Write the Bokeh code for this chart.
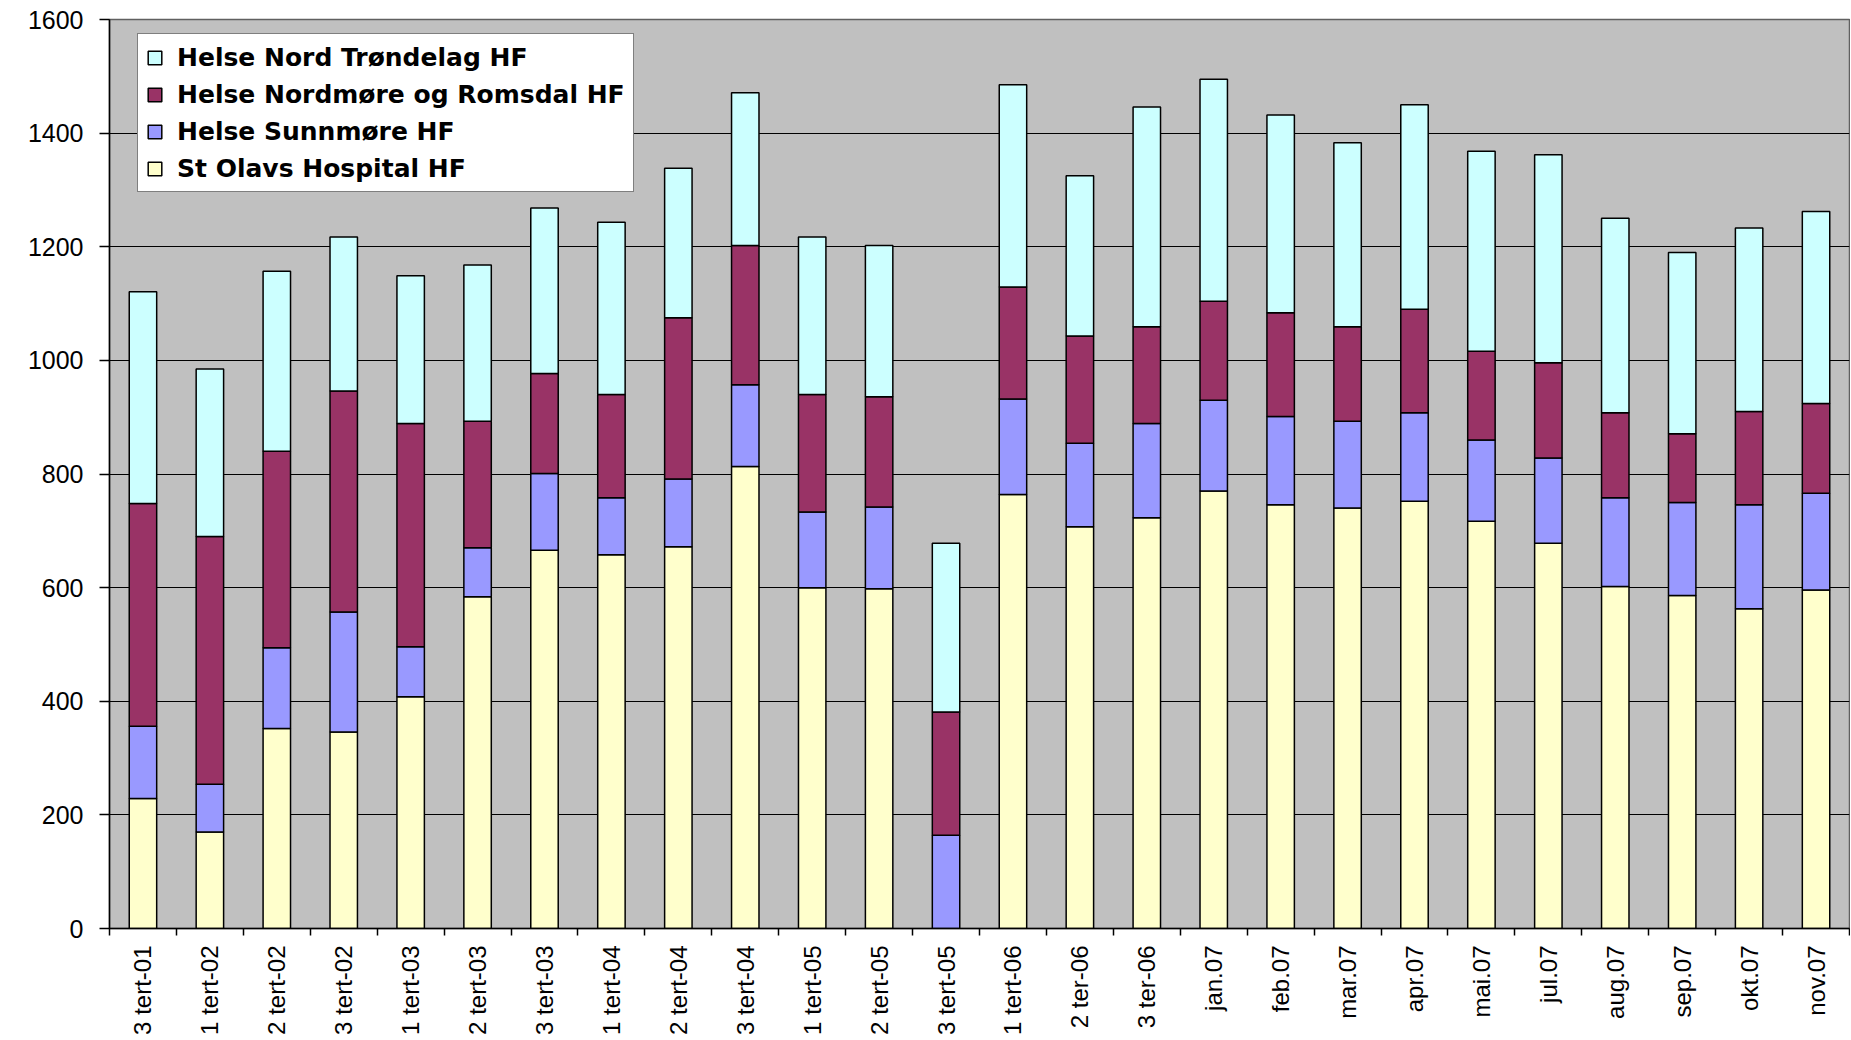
from bokeh.plotting import figure
from bokeh.models import (Range1d, FixedTicker, Legend, LegendItem, ColumnDataSource)
from bokeh.embed import file_html
from bokeh.resources import INLINE
import math

categories = ["3 tert-01", "1 tert-02", "2 tert-02", "3 tert-02", "1 tert-03", "2 tert-03",
              "3 tert-03", "1 tert-04", "2 tert-04", "3 tert-04", "1 tert-05", "2 tert-05",
              "3 tert-05", "1 tert-06", "2 ter-06", "3 ter-06", "jan.07", "feb.07", "mar.07",
              "apr.07", "mai.07", "jul.07", "aug.07", "sep.07", "okt.07", "nov.07"]

st_olavs = [229, 170, 352, 346, 408, 584, 666, 658, 672, 813, 600, 598, 0, 764, 707, 723,
            770, 746, 740, 752, 717, 678, 602, 586, 563, 596]
sunnmore = [127, 84, 142, 211, 88, 86, 135, 100, 119, 144, 133, 144, 164, 168, 147, 166,
            160, 155, 153, 156, 143, 150, 156, 164, 183, 170]
nordmore_romsdal = [392, 436, 346, 389, 393, 223, 176, 182, 284, 245, 207, 194, 217, 197, 189, 170,
                    174, 183, 166, 182, 156, 168, 150, 121, 164, 158]
nord_trondelag = [373, 295, 317, 271, 260, 275, 291, 303, 263, 269, 277, 266, 297, 356, 282, 387,
                  391, 348, 324, 360, 352, 366, 342, 319, 323, 338]

series_names = ["St Olavs Hospital HF", "Helse Sunnmøre HF",
                "Helse Nordmøre og Romsdal HF", "Helse Nord Trøndelag HF"]
series_colors = ["#FFFFCC", "#9999FF", "#993366", "#CCFFFF"]
y_ticks = [0, 200, 400, 600, 800, 1000, 1200, 1400, 1600]

n = len(categories)
xs = [i + 0.5 for i in range(n)]
src = ColumnDataSource(dict(x=xs, s0=st_olavs, s1=sunnmore, s2=nordmore_romsdal, s3=nord_trondelag))

W, H = 1850, 1039
top_b, bot_b, left_b, right_b = 19, 111, 109, 1
p = figure(width=W, height=H, output_backend="svg", toolbar_location=None,
           x_range=Range1d(0, n), y_range=Range1d(0, 1600),
           min_border_left=left_b, min_border_right=right_b,
           min_border_top=top_b, min_border_bottom=bot_b)
p.background_fill_color = "#C0C0C0"
p.border_fill_color = "white"
p.outline_line_color = "#606060"
p.outline_line_width = 1.5

renderers = p.vbar_stack(["s0", "s1", "s2", "s3"], x="x", width=0.41, source=src,
                         color=series_colors, line_color="black", line_width=1.5)

# axes
p.xgrid.visible = False
p.ygrid.grid_line_color = "black"
p.ygrid.grid_line_width = 1
p.yaxis.ticker = FixedTicker(ticks=y_ticks)
p.yaxis.major_tick_out = 10
p.yaxis.major_tick_in = 0
p.yaxis.minor_tick_line_color = None
p.yaxis.axis_line_color = "black"
p.yaxis.axis_line_width = 1.5
p.yaxis.major_tick_line_width = 1.5
p.yaxis.major_label_text_font = "Liberation Sans"
p.yaxis.major_label_text_font_size = "25px"
p.yaxis.major_label_text_color = "black"
p.yaxis.major_label_standoff = 16

p.xaxis.ticker = FixedTicker(ticks=xs, minor_ticks=list(range(n + 1)))
p.xaxis.major_label_overrides = {x: c for x, c in zip(xs, categories)}
p.xaxis.major_tick_line_color = None
p.xaxis.major_tick_out = 0
p.xaxis.major_tick_in = 0
p.xaxis.minor_tick_out = 7
p.xaxis.minor_tick_in = 0
p.xaxis.minor_tick_line_color = "black"
p.xaxis.minor_tick_line_width = 1.5
p.xaxis.axis_line_color = "black"
p.xaxis.axis_line_width = 1.5
p.xaxis.major_label_orientation = math.pi / 2
p.xaxis.major_label_text_font = "Liberation Sans"
p.xaxis.major_label_text_font_size = "24px"
p.xaxis.major_label_text_color = "black"
p.xaxis.major_label_standoff = 10

# legend (top item = last series)
items = [LegendItem(label=series_names[i], renderers=[renderers[i]]) for i in range(3, -1, -1)]
label_h, spacing, padding = 30, 7, 8
leg_h = 4 * label_h + 3 * spacing + 2 * padding
frame_h = H - top_b - bot_b
legend = Legend(items=items, location=(28, frame_h - 16 - leg_h), margin=0,
                label_text_font="DejaVu Sans", label_text_font_style="bold",
                label_text_font_size="25px", label_text_color="black",
                label_height=label_h, spacing=spacing, padding=padding,
                glyph_width=17, glyph_height=17, label_standoff=14,
                border_line_color="black", border_line_width=1.5,
                background_fill_color="white", background_fill_alpha=1.0)
p.add_layout(legend)

open("out.html", "w").write(file_html(p, INLINE))
